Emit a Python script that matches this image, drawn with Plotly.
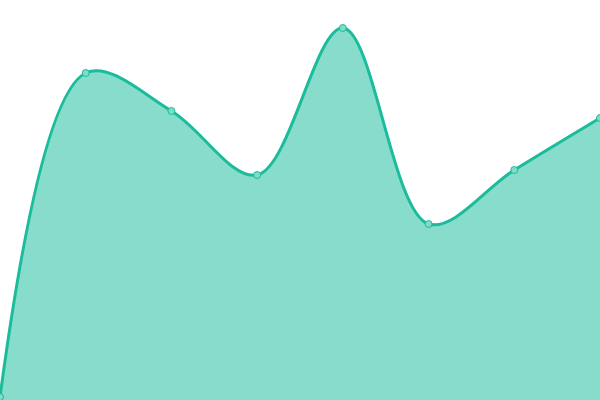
import plotly.graph_objects as go

# index of each point along the x axis and its height
steps = [0, 1, 2, 3, 4, 5, 6, 7]
values = [3, 327, 289, 225, 372, 176, 230, 282]

line_color = "#1abc9c"
fill_color = "rgba(26,188,156,0.52)"

trace = go.Scatter(
    x=steps,
    y=values,
    mode="lines+markers",
    line=dict(color=line_color, width=3, shape="spline", smoothing=1.0),
    fill="tozeroy",
    fillcolor=fill_color,
    marker=dict(size=7, color="#7fdcc9", line=dict(color=line_color, width=1)),
    hoverinfo="x+y",
)

layout = go.Layout(
    width=600,
    height=400,
    margin=dict(l=0, r=0, t=0, b=0),
    paper_bgcolor="white",
    plot_bgcolor="white",
    showlegend=False,
    xaxis=dict(range=[0, 7], visible=False, fixedrange=True),
    yaxis=dict(range=[0, 400], visible=False, fixedrange=True),
)

fig = go.Figure(data=[trace], layout=layout)
# drop the default page margin so the chart fills the window edge to edge
fig.write_html(
    "out.html",
    config={"displayModeBar": False},
    post_script="document.body.style.margin='0';document.body.style.overflow='hidden';",
)
